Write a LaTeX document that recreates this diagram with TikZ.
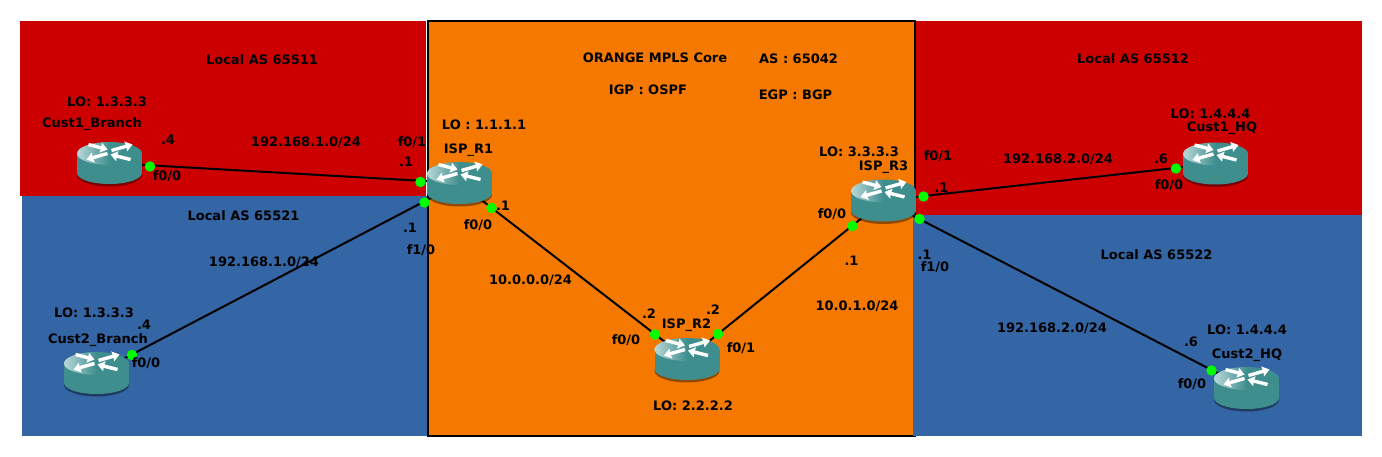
\documentclass[tikz,border=0pt]{standalone}
\usepackage{fontspec}
\setmainfont{DejaVu Sans}
\usetikzlibrary{arrows.meta}

\definecolor{asred}{HTML}{CC0000}
\definecolor{asblue}{HTML}{3465A4}
\definecolor{coreorange}{HTML}{F57900}
\definecolor{routerteal}{HTML}{3E8E8E}
\definecolor{routerlight}{HTML}{BAD8D8}

\tikzstyle{textblock} = [inner sep=0pt, yshift=-0.5pt, font=\fontsize{13}{15}\selectfont\bfseries, text=black]
\tikzstyle{routerblock} = [minimum width=65pt, minimum height=42pt, inner sep=0pt]
\tikzstyle{portdot} = [circle, fill=green, minimum size=10.5pt, inner sep=0pt]
\tikzstyle{link} = [draw=black, line width=2pt]
\tikzstyle{flow} = [draw=white, line width=3.4pt, -{Stealth[length=7pt,width=10pt,inset=0.5pt]}]

\tikzset{
  routerpic/.pic={
    \fill [black, opacity=0.4] (0,12) ellipse [x radius=32.5pt, y radius=11.5pt];
    \fill [routerteal] (-32.5,-9.5) rectangle (32.5,10);
    \fill [routerteal] (0,10) ellipse [x radius=32.5pt, y radius=11pt];
    \shade [left color=routerlight, right color=routerteal, middle color=routerteal]
      (0,-9.5) ellipse [x radius=32.5pt, y radius=11.5pt];
    \draw [flow] (-21,-18.5) -- (-2,-13.5); % inward
    \draw [flow] (2,-12.5) -- (23,-18.5); % outward
    \draw [flow] (-2,-9.5) -- (-23,-3.5); % outward
    \draw [flow] (21,-3.5) -- (1,-8.5); % inward
  }
}

\begin{document}
\begin{tikzpicture}[x=1pt,y=-1pt]

\pgfdeclarelayer{background}
\pgfdeclarelayer{foreground}
\pgfsetlayers{background,main,foreground}

\useasboundingbox (0,0) rectangle (1382,457);

\coordinate (anchor) at (0,0);

%Routers

\path (anchor)+(109.5,163) node (cust1_branch) [routerblock] {};
\path (anchor)+(459.5,183) node (isp_r1) [routerblock] {};
\path (anchor)+(687,359) node (isp_r2) [routerblock] {};
\path (anchor)+(883.5,200.5) node (isp_r3) [routerblock] {};
\path (anchor)+(1215.5,163.5) node (cust1_hq) [routerblock] {};
\path (anchor)+(96.5,373) node (cust2_branch) [routerblock] {};
\path (anchor)+(1246.5,388) node (cust2_hq) [routerblock] {};

%Links

\draw [link] (cust1_branch.center) -- (isp_r1.center);
\draw [link] (cust2_branch.center) -- (isp_r1.center);
\draw [link] (isp_r1.center) -- (isp_r2.center);
\draw [link] (isp_r2.center) -- (isp_r3.center);
\draw [link] (isp_r3.center) -- (cust1_hq.center);
\draw [link] (isp_r3.center) -- (cust2_hq.center);

\begin{pgfonlayer}{foreground}

\foreach \router in {cust1_branch,isp_r1,isp_r2,isp_r3,cust1_hq,cust2_branch,cust2_hq}
  \pic at (\router.center) {routerpic};

%Port dots

\path (anchor)+(150,166.5) node (dot_cust1_branch) [portdot] {};
\path (anchor)+(420.5,182) node (dot_r1_a) [portdot] {};
\path (anchor)+(424.5,202.5) node (dot_r1_b) [portdot] {};
\path (anchor)+(132,355) node (dot_cust2_branch) [portdot] {};
\path (anchor)+(491.5,208) node (dot_r1_c) [portdot] {};
\path (anchor)+(655,334.5) node (dot_r2_a) [portdot] {};
\path (anchor)+(718,334) node (dot_r2_b) [portdot] {};
\path (anchor)+(852.5,226) node (dot_r3_a) [portdot] {};
\path (anchor)+(923.5,196.5) node (dot_r3_b) [portdot] {};
\path (anchor)+(919.5,219) node (dot_r3_c) [portdot] {};
\path (anchor)+(1176,168.5) node (dot_cust1_hq) [portdot] {};
\path (anchor)+(1211.5,370.5) node (dot_cust2_hq) [portdot] {};

%Left customer sites

\path (anchor)+(262,59) node (as_65511) [textblock] {Local AS 65511};
\path (anchor)+(107,101) node (lo_cust1_branch) [textblock] {LO: 1.3.3.3};
\path (anchor)+(92,124) node (name_cust1_branch) [textblock] {Cust1\_Branch};
\path (anchor)+(168,139) node (ip_cust1_branch) [textblock] {.4};
\path (anchor)+(306,142) node (net_left_top) [textblock] {192.168.1.0/24};
\path (anchor)+(167,176) node (port_cust1_branch) [textblock] {f0/0};

\path (anchor)+(243.5,215) node (as_65521) [textblock] {Local AS 65521};
\path (anchor)+(264,262) node (net_left_bottom) [textblock] {192.168.1.0/24};
\path (anchor)+(94,312) node (lo_cust2_branch) [textblock] {LO: 1.3.3.3};
\path (anchor)+(144,324) node (ip_cust2_branch) [textblock] {.4};
\path (anchor)+(98,340) node (name_cust2_branch) [textblock] {Cust2\_Branch};
\path (anchor)+(146,363) node (port_cust2_branch) [textblock] {f0/0};

%Core

\path (anchor)+(655,57) node (core_name) [textblock] {ORANGE MPLS Core};
\path (anchor)+(798.5,58) node (core_as) [textblock] {AS : 65042};
\path (anchor)+(648,89) node (core_igp) [textblock] {IGP : OSPF};
\path (anchor)+(795.5,94) node (core_egp) [textblock] {EGP : BGP};

\path (anchor)+(412,142) node (port_r1_a) [textblock] {f0/1};
\path (anchor)+(406,161) node (ip_r1_a) [textblock] {.1};
\path (anchor)+(484,124) node (lo_r1) [textblock] {LO : 1.1.1.1};
\path (anchor)+(468.5,150) node (name_r1) [textblock] {ISP\_R1};
\path (anchor)+(503,205) node (ip_r1_c) [textblock] {.1};
\path (anchor)+(478,225) node (port_r1_c) [textblock] {f0/0};
\path (anchor)+(410,227) node (ip_r1_b) [textblock] {.1};
\path (anchor)+(421,250) node (port_r1_b) [textblock] {f1/0};
\path (anchor)+(530.5,280) node (net_core_left) [textblock] {10.0.0.0/24};

\path (anchor)+(649,313) node (ip_r2_a) [textblock] {.2};
\path (anchor)+(713,309) node (ip_r2_b) [textblock] {.2};
\path (anchor)+(686.5,325) node (name_r2) [textblock] {ISP\_R2};
\path (anchor)+(626,340) node (port_r2_a) [textblock] {f0/0};
\path (anchor)+(741,348) node (port_r2_b) [textblock] {f0/1};
\path (anchor)+(693,405) node (lo_r2) [textblock] {LO: 2.2.2.2};

\path (anchor)+(859,151) node (lo_r3) [textblock] {LO: 3.3.3.3};
\path (anchor)+(883.5,167) node (name_r3) [textblock] {ISP\_R3};
\path (anchor)+(938,156) node (port_r3_b) [textblock] {f0/1};
\path (anchor)+(941.5,187) node (ip_r3_b) [textblock] {.1};
\path (anchor)+(832,214) node (port_r3_a) [textblock] {f0/0};
\path (anchor)+(851.5,260) node (ip_r3_a) [textblock] {.1};
\path (anchor)+(857,306) node (net_core_right) [textblock] {10.0.1.0/24};
\path (anchor)+(924.5,254) node (ip_r3_c) [textblock] {.1};
\path (anchor)+(935,267) node (port_r3_c) [textblock] {f1/0};

%Right customer sites

\path (anchor)+(1133,58) node (as_65512) [textblock] {Local AS 65512};
\path (anchor)+(1058,159) node (net_right_top) [textblock] {192.168.2.0/24};
\path (anchor)+(1161,158) node (ip_cust1_hq) [textblock] {.6};
\path (anchor)+(1210.5,113) node (lo_cust1_hq) [textblock] {LO: 1.4.4.4};
\path (anchor)+(1222,128) node (name_cust1_hq) [textblock] {Cust1\_HQ};
\path (anchor)+(1169,185) node (port_cust1_hq) [textblock] {f0/0};

\path (anchor)+(1156.5,254) node (as_65522) [textblock] {Local AS 65522};
\path (anchor)+(1052,328) node (net_right_bottom) [textblock] {192.168.2.0/24};
\path (anchor)+(1191,341) node (ip_cust2_hq) [textblock] {.6};
\path (anchor)+(1247,329) node (lo_cust2_hq) [textblock] {LO: 1.4.4.4};
\path (anchor)+(1247,355) node (name_cust2_hq) [textblock] {Cust2\_HQ};
\path (anchor)+(1192,384) node (port_cust2_hq) [textblock] {f0/0};

\end{pgfonlayer}

\begin{pgfonlayer}{background}

\fill [asred] (20,21) rectangle (426,196);
\fill [asblue] (22,196) rectangle (427,436);
\fill [asred] (915,21) rectangle (1362,215);
\path [draw=black, line width=2pt, fill=coreorange] (428,21) rectangle (914.5,436);
\fill [asblue] (913,215) rectangle (1362,436);

\end{pgfonlayer}

\end{tikzpicture}
\end{document}
